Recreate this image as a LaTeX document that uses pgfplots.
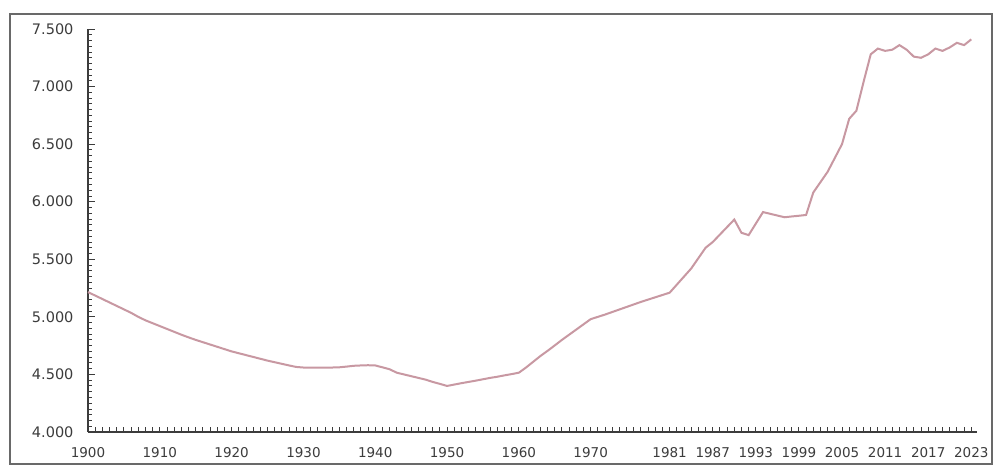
\documentclass[border=0pt]{standalone}
\usepackage{pgfplots}
\pgfplotsset{compat=1.18}
\usepackage{fontspec}
\setmainfont{DejaVu Sans}
\definecolor{c_line}{RGB}{200,152,162}
\definecolor{c_axis}{RGB}{60,60,60}
\definecolor{c_frame}{RGB}{105,105,105}

\begin{document}
\begin{tikzpicture}
\useasboundingbox (0pt,0pt) rectangle (995pt,467pt);
\fill[white] (0pt,0pt) rectangle (995pt,467pt);
\draw[c_frame, line width=1.8pt] (10pt,3pt) rectangle (992pt,453pt);
\begin{axis}[
    at={(88pt,35pt)}, anchor=south west,
    scale only axis,
    width=889pt, height=403pt,
    xmin=1900, xmax=2023.8,
    ymin=4000, ymax=7500,
    axis lines=left,
    axis line style={c_axis, line width=1.2pt, -},
    tick style={c_axis, line width=0.9pt},
    tick align=inside,
    ytick={4000,4500,...,7500},
    minor y tick num=9,
    extra y ticks={4000,4500,...,7500},
    extra y tick labels={},
    extra y tick style={major tick length=7pt},
    xtick={1900,1910,1920,1930,1940,1950,1960,1970,1981,1987,1993,1999,2005,2011,2017,2023},
    xticklabels={1900,1910,1920,1930,1940,1950,1960,1970,1981,1987,1993,1999,2005,2011,2017,2023},
    extra x ticks={1900,1901,...,2023},
    extra x tick labels={},
    x tick label style={font=\fontsize{13.5}{15}\selectfont, text=c_axis, yshift=-12pt},
    y tick label style={font=\fontsize{14.5}{16}\selectfont, text=c_axis, xshift=-11pt},
    /pgf/number format/assume math mode=true,
    /pgf/number format/1000 sep={.},
    major tick length=5pt,
    minor tick length=4pt,
    clip=false,
]
\addplot[c_line, line width=2pt, no markers] table[row sep=\\] {
x y\\
1900 5215\\ 1901 5185\\ 1902 5155\\ 1903 5125\\ 1904 5095\\
1905 5065\\ 1906 5035\\ 1907 5000\\ 1908 4970\\ 1909 4945\\
1910 4920\\ 1911 4895\\ 1912 4870\\ 1913 4845\\ 1914 4822\\
1915 4800\\ 1916 4780\\ 1917 4760\\ 1918 4740\\ 1919 4720\\
1920 4700\\ 1921 4684\\ 1922 4668\\ 1923 4652\\ 1924 4636\\
1925 4620\\ 1926 4606\\ 1927 4592\\ 1928 4578\\ 1929 4565\\
1930 4560\\ 1931 4560\\ 1932 4560\\ 1933 4560\\ 1934 4560\\
1935 4562\\ 1936 4568\\ 1937 4575\\ 1938 4578\\ 1939 4580\\
1940 4578\\ 1941 4562\\ 1942 4545\\ 1943 4515\\ 1944 4500\\
1945 4485\\ 1946 4470\\ 1947 4455\\ 1948 4435\\ 1949 4418\\
1950 4400\\ 1951 4412\\ 1952 4424\\ 1953 4435\\ 1954 4446\\
1955 4458\\ 1956 4470\\ 1957 4480\\ 1958 4492\\ 1959 4503\\
1960 4515\\ 1961 4560\\ 1962 4610\\ 1963 4660\\ 1964 4705\\
1965 4752\\ 1966 4800\\ 1967 4845\\ 1968 4890\\ 1969 4935\\
1970 4980\\ 1971 5000\\ 1972 5020\\ 1973 5042\\ 1974 5064\\
1975 5086\\ 1976 5108\\ 1977 5130\\ 1978 5150\\ 1979 5170\\
1980 5190\\ 1981 5210\\ 1982 5280\\ 1983 5350\\ 1984 5420\\
1985 5510\\ 1986 5600\\ 1987 5650\\ 1988 5715\\ 1989 5780\\
1990 5845\\ 1991 5730\\ 1992 5710\\ 1993 5810\\ 1994 5910\\
1995 5895\\ 1996 5880\\ 1997 5865\\ 1998 5872\\ 1999 5878\\
2000 5885\\ 2001 6080\\ 2002 6170\\ 2003 6260\\ 2004 6380\\
2005 6500\\ 2006 6720\\ 2007 6790\\ 2008 7040\\ 2009 7280\\
2010 7330\\ 2011 7310\\ 2012 7320\\ 2013 7360\\ 2014 7320\\
2015 7260\\ 2016 7250\\ 2017 7280\\ 2018 7330\\ 2019 7310\\
2020 7340\\ 2021 7380\\ 2022 7360\\ 2023 7410\\
};
\end{axis}
\end{tikzpicture}
\end{document}
